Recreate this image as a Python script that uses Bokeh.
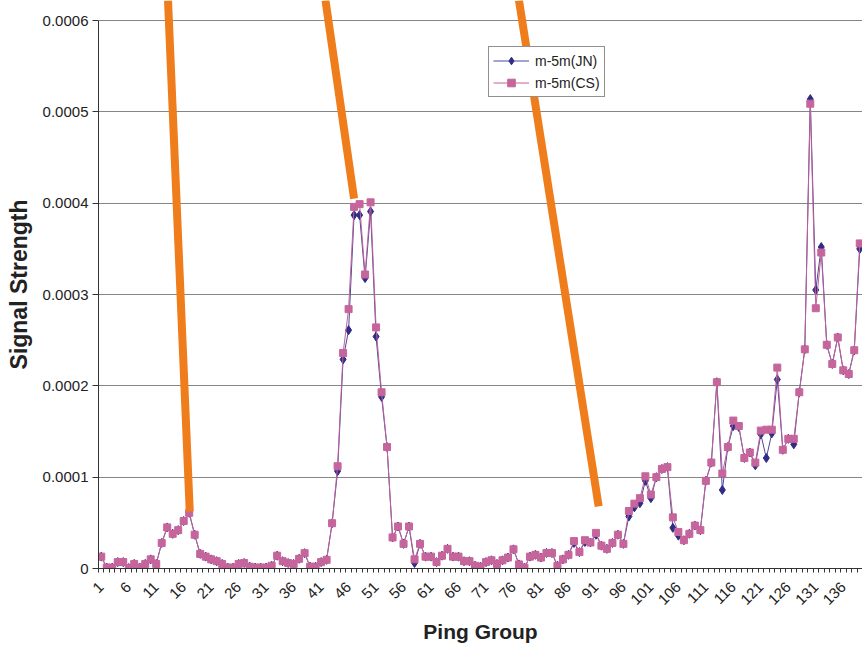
from bokeh.plotting import figure
from bokeh.models import FixedTicker, Arrow, Legend, LegendItem, ColumnDataSource
from bokeh.embed import file_html
from bokeh.resources import INLINE
import math

# ---------------- data ----------------
ping_group = list(range(1, 140))

# values in units of 1e-5
cs_e5 = [1.3, 0.1, 0.1, 0.7, 0.7, 0.05, 0.5, 0.1, 0.5, 1.0,
         0.5, 2.8, 4.5, 3.8, 4.2, 5.2, 6.1, 3.7, 1.6, 1.3,
         1.0, 0.8, 0.5, 0.1, 0.1, 0.5, 0.6, 0.2, 0.1, 0.1,
         0.1, 0.3, 1.4, 0.8, 0.6, 0.5, 1.06, 1.68, 0.2, 0.2,
         0.7, 0.95, 4.96, 11.2, 23.6, 28.4, 39.6, 39.9, 32.2, 40.1,
         26.4, 19.3, 13.3, 3.4, 4.6, 2.7, 4.6, 1.0, 2.7, 1.3,
         1.3, 0.7, 1.4, 2.15, 1.3, 1.3, 0.8, 0.8, 0.3, 0.2,
         0.7, 0.9, 0.5, 0.9, 1.2, 2.1, 0.45, 0.1, 1.3, 1.5,
         1.2, 1.7, 1.7, 0.3, 1.0, 1.5, 3.0, 1.8, 3.1, 2.85,
         3.9, 2.5, 2.15, 2.8, 3.7, 2.7, 6.3, 7.1, 7.7, 10.1,
         8.1, 10.0, 10.9, 11.1, 5.6, 4.0, 3.1, 3.8, 4.7, 4.2,
         9.6, 11.6, 20.4, 10.4, 13.3, 16.2, 15.6, 12.1, 12.7, 11.6,
         15.1, 15.2, 15.2, 22.0, 13.0, 14.2, 14.2, 19.3, 24.0, 50.9,
         28.5, 34.6, 24.5, 22.4, 25.3, 21.7, 21.3, 23.9, 35.6]

jn_e5 = [1.3, 0.1, 0.1, 0.7, 0.7, 0.05, 0.5, 0.1, 0.5, 1.0,
         0.5, 2.8, 4.5, 3.8, 4.2, 5.2, 6.1, 3.7, 1.6, 1.3,
         1.0, 0.8, 0.5, 0.1, 0.1, 0.5, 0.6, 0.2, 0.1, 0.1,
         0.1, 0.3, 1.4, 0.8, 0.6, 0.5, 1.06, 1.68, 0.2, 0.2,
         0.7, 0.95, 4.96, 10.66, 22.9, 26.1, 38.7, 38.7, 31.8, 39.1,
         25.4, 18.8, 13.3, 3.4, 4.6, 2.7, 4.6, 0.6, 2.7, 1.3,
         1.3, 0.7, 1.4, 2.15, 1.3, 1.3, 0.8, 0.8, 0.3, 0.2,
         0.7, 0.9, 0.5, 0.9, 1.2, 2.1, 0.45, 0.1, 1.3, 1.5,
         1.2, 1.7, 1.7, 0.3, 1.0, 1.5, 2.8, 1.8, 2.9, 2.85,
         3.7, 2.5, 2.15, 2.8, 3.7, 2.7, 5.7, 6.7, 7.15, 9.6,
         7.7, 10.0, 10.9, 11.1, 4.45, 3.6, 3.1, 3.8, 4.7, 4.2,
         9.6, 11.6, 20.4, 8.6, 13.3, 15.6, 15.5, 12.1, 12.7, 11.3,
         14.7, 12.1, 14.8, 20.7, 13.0, 14.2, 13.6, 19.3, 24.0, 51.4,
         30.5, 35.2, 24.5, 22.4, 25.3, 21.7, 21.3, 23.9, 35.0]

unit = 1e-5
cs = [v * unit for v in cs_e5]
jn = [v * unit for v in jn_e5]

y_ticks = [0, 0.0001, 0.0002, 0.0003, 0.0004, 0.0005, 0.0006]
y_tick_labels = ["0", "0.0001", "0.0002", "0.0003", "0.0004", "0.0005", "0.0006"]
x_label_groups = list(range(1, 140, 5))

# orange annotation strokes (data coordinates)
note_x_start = [13.15, 41.8, 77.0]
note_y_start = [0.000622, 0.000622, 0.000622]
note_x_end = [17.1, 47.0, 91.5]
note_y_end = [0.0000625, 0.000405, 0.000068]

# ---------------- figure ----------------
p = figure(width=862, height=650, x_range=(0.5, 139.5), y_range=(0, 0.000622),
           output_backend="svg", toolbar_location=None,
           min_border_left=98, min_border_right=0, min_border_top=0,
           min_border_bottom=82)
p.outline_line_color = None
p.background_fill_color = "white"

p.xgrid.grid_line_color = None
p.ygrid.grid_line_color = "#868686"
p.ygrid.grid_line_width = 1
p.ygrid.ticker = FixedTicker(ticks=y_ticks)

# y axis
p.yaxis.ticker = FixedTicker(ticks=y_ticks, minor_ticks=[])
p.yaxis.bounds = (0, 0.0006)
p.yaxis.major_label_overrides = {t: s for t, s in zip(y_ticks, y_tick_labels)}
p.yaxis.axis_label = "Signal Strength"
p.yaxis.axis_label_text_font = "Liberation Sans"
p.yaxis.axis_label_text_font_style = "bold"
p.yaxis.axis_label_text_font_size = "23px"
p.yaxis.axis_label_text_color = "#222222"
p.yaxis.axis_label_standoff = 8
p.yaxis.major_label_text_font = "Liberation Sans"
p.yaxis.major_label_text_font_size = "15px"
p.yaxis.major_label_text_color = "#222222"
p.yaxis.major_label_standoff = 4
p.yaxis.major_tick_out = 6
p.yaxis.major_tick_in = 0
p.yaxis.minor_tick_line_color = None
p.yaxis.axis_line_color = "#333333"
p.yaxis.major_tick_line_color = "#333333"

# x axis
p.xaxis.ticker = FixedTicker(ticks=x_label_groups,
                             minor_ticks=[g - 0.5 for g in ping_group] + [139.5])
p.xaxis.axis_label = "Ping Group"
p.xaxis.axis_label_text_font = "Liberation Sans"
p.xaxis.axis_label_text_font_style = "bold"
p.xaxis.axis_label_text_font_size = "21px"
p.xaxis.axis_label_text_color = "#222222"
p.xaxis.axis_label_standoff = 8
p.xaxis.major_label_orientation = math.pi / 4
p.xaxis.major_label_text_font = "Liberation Sans"
p.xaxis.major_label_text_font_size = "15px"
p.xaxis.major_label_text_color = "#222222"
p.xaxis.major_label_text_baseline = "bottom"
p.xaxis.major_label_standoff = 12
p.xaxis.major_tick_line_color = None
p.xaxis.major_tick_out = 4
p.xaxis.minor_tick_out = 4
p.xaxis.minor_tick_in = 0
p.xaxis.minor_tick_line_color = "#333333"
p.xaxis.axis_line_color = "#333333"

src = ColumnDataSource(dict(x=ping_group, jn=jn, cs=cs))

jn_color = "#2E2C86"
cs_color = "#C6659C"

l1 = p.line("x", "jn", source=src, line_color="#4B4898", line_width=1)
m1 = p.scatter("x", "jn", source=src, marker="diamond", size=9,
               fill_color=jn_color, line_color=jn_color)
l2 = p.line("x", "cs", source=src, line_color="#C0609A", line_width=1)
m2 = p.scatter("x", "cs", source=src, marker="square", size=7,
               fill_color=cs_color, line_color=cs_color)

notes = ColumnDataSource(dict(xs=note_x_start, ys=note_y_start,
                              xe=note_x_end, ye=note_y_end))
p.add_layout(Arrow(end=None, source=notes, x_start="xs", y_start="ys",
                   x_end="xe", y_end="ye", line_color="#F07D1C", line_width=8))

legend = Legend(items=[LegendItem(label="m-5m(JN)", renderers=[l1, m1]),
                       LegendItem(label="m-5m(CS)", renderers=[l2, m2])],
                location=(390, 471))
legend.border_line_color = "#222222"
legend.border_line_width = 1
legend.background_fill_color = "white"
legend.background_fill_alpha = 1
legend.padding = 4
legend.spacing = 3
legend.margin = 0
legend.glyph_width = 36
legend.glyph_height = 19
legend.label_standoff = 6
legend.label_text_font = "Liberation Sans"
legend.label_text_font_size = "14px"
legend.label_text_color = "#222222"
p.add_layout(legend)

open("out.html", "w").write(file_html(p, INLINE))
